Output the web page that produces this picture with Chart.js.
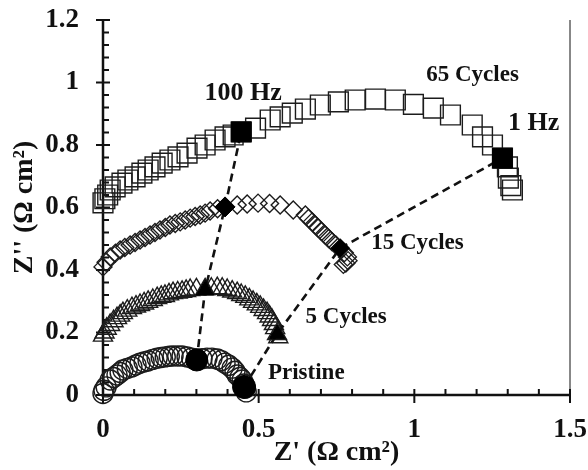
<!DOCTYPE html>
<html>
<head>
<meta charset="utf-8">
<script src="https://cdn.jsdelivr.net/npm/chart.js@4.4.1/dist/chart.umd.min.js"></script>
<style>
  html, body { margin: 0; padding: 0; background: #fff; }
  #wrap { width: 588px; height: 470px; }
</style>
</head>
<body>
<div id="wrap"><canvas id="eis" width="588" height="470"></canvas></div>
<script>
const pristineX = [0.0, 0.003, 0.01, 0.023, 0.034, 0.045, 0.055, 0.064, 0.078, 0.093, 0.106, 0.119, 0.132, 0.145, 0.16, 0.174, 0.187, 0.2, 0.213, 0.225, 0.24, 0.254, 0.27, 0.285, 0.301, 0.318, 0.334, 0.35, 0.367, 0.38, 0.392, 0.404, 0.415, 0.424, 0.431, 0.44, 0.447, 0.453, 0.457, 0.46];
const pristineY = [0.005, 0.015, 0.026, 0.048, 0.056, 0.064, 0.072, 0.08, 0.085, 0.09, 0.096, 0.102, 0.106, 0.109, 0.114, 0.118, 0.12, 0.122, 0.124, 0.125, 0.125, 0.125, 0.122, 0.118, 0.115, 0.116, 0.118, 0.118, 0.115, 0.11, 0.102, 0.095, 0.086, 0.076, 0.064, 0.056, 0.048, 0.035, 0.022, 0.01];

const cycles5X = [0.0, 0.005, 0.012, 0.023, 0.034, 0.045, 0.055, 0.064, 0.078, 0.093, 0.106, 0.119, 0.132, 0.145, 0.16, 0.174, 0.187, 0.199, 0.212, 0.225, 0.24, 0.254, 0.267, 0.28, 0.3, 0.328, 0.348, 0.367, 0.383, 0.399, 0.415, 0.431, 0.444, 0.457, 0.47, 0.482, 0.494, 0.505, 0.516, 0.527, 0.535, 0.543, 0.549, 0.553, 0.559, 0.563];
const cycles5Y = [0.19, 0.2, 0.212, 0.224, 0.236, 0.246, 0.254, 0.262, 0.27, 0.278, 0.283, 0.288, 0.293, 0.298, 0.304, 0.31, 0.314, 0.317, 0.322, 0.326, 0.328, 0.33, 0.333, 0.336, 0.338, 0.338, 0.34, 0.342, 0.34, 0.336, 0.331, 0.326, 0.32, 0.314, 0.306, 0.298, 0.29, 0.282, 0.272, 0.262, 0.251, 0.24, 0.227, 0.214, 0.195, 0.185];

const cycles15X = [0.0, 0.01, 0.023, 0.04, 0.055, 0.07, 0.087, 0.103, 0.119, 0.135, 0.151, 0.167, 0.183, 0.2, 0.215, 0.232, 0.248, 0.264, 0.28, 0.296, 0.312, 0.328, 0.344, 0.368, 0.392, 0.431, 0.463, 0.498, 0.535, 0.569, 0.611, 0.65, 0.66, 0.672, 0.682, 0.691, 0.702, 0.714, 0.725, 0.736, 0.748, 0.762, 0.775, 0.785, 0.787, 0.78, 0.772];
const cycles15Y = [0.41, 0.425, 0.442, 0.454, 0.464, 0.472, 0.48, 0.488, 0.496, 0.504, 0.512, 0.52, 0.528, 0.536, 0.544, 0.549, 0.554, 0.56, 0.566, 0.571, 0.576, 0.582, 0.589, 0.596, 0.602, 0.608, 0.611, 0.614, 0.613, 0.608, 0.592, 0.576, 0.565, 0.554, 0.544, 0.534, 0.523, 0.512, 0.501, 0.49, 0.48, 0.47, 0.455, 0.442, 0.43, 0.422, 0.418];

const cycles65X = [0.0, 0.006, 0.015, 0.023, 0.039, 0.061, 0.08, 0.103, 0.125, 0.145, 0.167, 0.19, 0.215, 0.241, 0.27, 0.302, 0.328, 0.36, 0.392, 0.418, 0.444, 0.49, 0.537, 0.569, 0.608, 0.65, 0.698, 0.756, 0.81, 0.875, 0.939, 0.997, 1.061, 1.116, 1.186, 1.219, 1.251, 1.283, 1.299, 1.302, 1.31, 1.315];
const cycles65Y = [0.615, 0.628, 0.64, 0.656, 0.666, 0.678, 0.688, 0.698, 0.71, 0.72, 0.73, 0.742, 0.752, 0.762, 0.774, 0.79, 0.8, 0.816, 0.826, 0.832, 0.842, 0.854, 0.88, 0.89, 0.902, 0.915, 0.928, 0.938, 0.944, 0.947, 0.944, 0.93, 0.918, 0.896, 0.864, 0.826, 0.8, 0.758, 0.73, 0.694, 0.67, 0.656];

// frequency markers (pristine, 5, 15, 65 cycles)
const hz100X = [0.301, 0.328, 0.392, 0.444];
const hz100Y = [0.112, 0.336, 0.602, 0.842];
const hz1X = [0.453, 0.559, 0.762, 1.283];
const hz1Y = [0.026, 0.195, 0.47, 0.758];

const xTicks = [0, 0.5, 1, 1.5];
const yTicks = [0, 0.2, 0.4, 0.6, 0.8, 1, 1.2];

const labels = [
  { text: '100 Hz', x: 0.45, y: 0.966, size: 26 },
  { text: '65 Cycles', x: 1.187, y: 1.024, size: 23 },
  { text: '1 Hz', x: 1.383, y: 0.87, size: 26 },
  { text: '15 Cycles', x: 1.01, y: 0.486, size: 23 },
  { text: '5 Cycles', x: 0.781, y: 0.25, size: 23 },
  { text: 'Pristine', x: 0.653, y: 0.07, size: 23 }
];

const zip = (xs, ys) => xs.map((x, i) => ({ x: x, y: ys[i] }));
const serif = '"Liberation Serif", "Times New Roman", serif';
const ink = '#111';

function hollow(label, xs, ys, style, r) {
  return {
    label: label,
    data: zip(xs, ys),
    showLine: false,
    pointStyle: style,
    pointRadius: r,
    pointBorderWidth: 1.4,
    borderColor: '#1c1c1c',
    backgroundColor: 'rgba(0,0,0,0)',
    clip: false
  };
}

function marker(label, xs, ys, radii) {
  return {
    label: label,
    data: zip(xs, ys),
    showLine: true,
    borderDash: [8, 5],
    borderWidth: 2.6,
    borderColor: ink,
    pointStyle: ['circle', 'triangle', 'rectRot', 'rect'],
    pointRadius: radii,
    pointBorderWidth: 1,
    pointBackgroundColor: '#000',
    pointBorderColor: '#000',
    clip: false,
    order: -1
  };
}

const axesPlugin = {
  id: 'axesPlugin',
  beforeDatasetsDraw(chart) {
    const ctx = chart.ctx;
    const xs = chart.scales.x, ys = chart.scales.y;
    const x0 = xs.getPixelForValue(0), x1 = xs.getPixelForValue(1.5);
    const y0 = ys.getPixelForValue(0), y1 = ys.getPixelForValue(1.2);
    ctx.save();
    ctx.strokeStyle = ink;
    // right frame line
    ctx.lineWidth = 1;
    ctx.beginPath();
    ctx.moveTo(x1, y1); ctx.lineTo(x1, y0);
    ctx.stroke();
    ctx.lineWidth = 2.5;
    ctx.beginPath();
    ctx.moveTo(x0, y0); ctx.lineTo(x1, y0);
    ctx.moveTo(x0, y0 + 1); ctx.lineTo(x0, y1);
    ctx.stroke();
    ctx.lineWidth = 2;
    ctx.beginPath();
    for (let i = 0; i <= 30; i++) {
      const py = ys.getPixelForValue(i * 0.04);
      if (i % 5 === 0) { ctx.moveTo(x0 - 7, py); ctx.lineTo(x0 + 7, py); }
      else { ctx.moveTo(x0, py); ctx.lineTo(x0 + 6, py); }
    }
    for (let i = 0; i <= 15; i++) {
      const px = xs.getPixelForValue(i * 0.1);
      if (i % 5 === 0) { ctx.moveTo(px, y0 - 6); ctx.lineTo(px, y0 + 8); }
      else { ctx.moveTo(px, y0); ctx.lineTo(px, y0 - 6); }
    }
    ctx.stroke();
    ctx.restore();
  },
  afterDatasetsDraw(chart) {
    const ctx = chart.ctx;
    const xs = chart.scales.x, ys = chart.scales.y;
    ctx.save();
    ctx.fillStyle = ink;
    ctx.textAlign = 'center';
    ctx.textBaseline = 'middle';
    labels.forEach(l => {
      ctx.font = 'bold ' + l.size + 'px ' + serif;
      ctx.fillText(l.text, xs.getPixelForValue(l.x), ys.getPixelForValue(l.y));
    });
    ctx.restore();
  }
};

const tickText = v => String(+Number(v).toFixed(2));

new Chart(document.getElementById('eis'), {
  type: 'scatter',
  data: {
    datasets: [
      marker('100 Hz', hz100X, hz100Y, [11, 10, 10, 14]),
      marker('1 Hz', hz1X, hz1Y, [11.5, 9, 9, 14]),
      hollow('Pristine', pristineX, pristineY, 'circle', 10),
      hollow('5 Cycles', cycles5X, cycles5Y, 'triangle', 11),
      hollow('15 Cycles', cycles15X, cycles15Y, 'rectRot', 9),
      hollow('65 Cycles', cycles65X, cycles65Y, 'rect', 14)
    ]
  },
  options: {
    responsive: false,
    animation: false,
    devicePixelRatio: 1,
    layout: { padding: { top: 20, right: 18, left: 0, bottom: 0 } },
    plugins: { legend: { display: false }, tooltip: { enabled: false } },
    scales: {
      x: {
        type: 'linear', min: 0, max: 1.5,
        afterBuildTicks: s => { s.ticks = xTicks.map(v => ({ value: v })); },
        afterFit: s => { s.height = 75; s.paddingLeft = 0; s.paddingRight = 0; },
        grid: { display: false, drawTicks: false },
        border: { display: false },
        ticks: { padding: 19, color: ink, callback: tickText, font: { family: serif, size: 27, weight: 'bold' } },
        title: { display: true, text: 'Z\' (Ω cm²)', color: ink, padding: { top: 0, bottom: 0 },
                 font: { family: serif, size: 28, weight: 'bold' } }
      },
      y: {
        type: 'linear', min: 0, max: 1.2,
        afterBuildTicks: s => { s.ticks = yTicks.map(v => ({ value: v })); },
        afterFit: s => { s.width = 103; s.paddingTop = 0; s.paddingBottom = 0; },
        grid: { display: false, drawTicks: false },
        border: { display: false },
        ticks: { padding: 24, color: ink, callback: tickText, font: { family: serif, size: 27, weight: 'bold' } },
        title: { display: true, text: 'Z\'\' (Ω cm²)', color: ink, padding: { top: 8, bottom: 0 },
                 font: { family: serif, size: 28, weight: 'bold' } }
      }
    }
  },
  plugins: [axesPlugin]
});
</script>
</body>
</html>
